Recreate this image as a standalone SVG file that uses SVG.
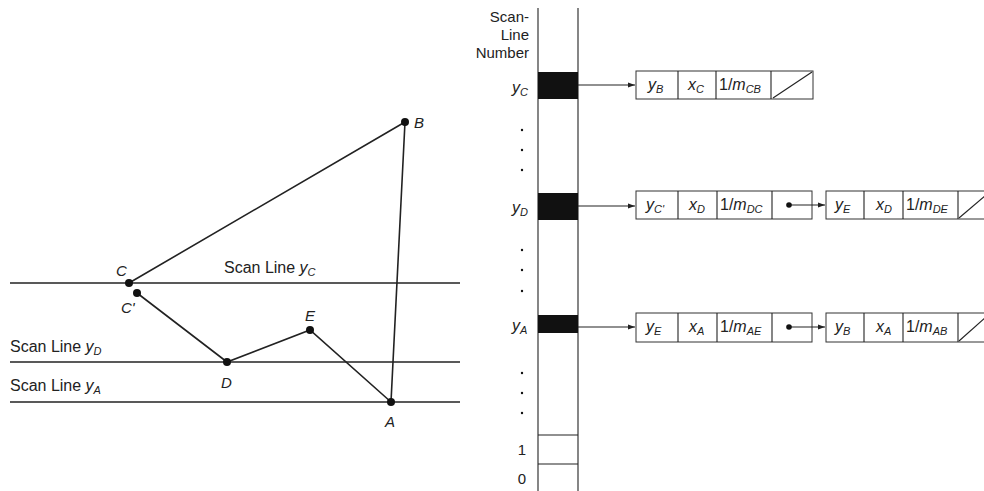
<svg xmlns="http://www.w3.org/2000/svg" width="984" height="491" viewBox="0 0 984 491">
<style>
text{font-family:"Liberation Sans",Arial,sans-serif;font-size:16px;fill:#222}
.it{font-style:italic}
.sub{font-size:11px;font-style:italic}
.lab{font-size:15px}
.ln{stroke:#222;stroke-width:1.6;fill:none}
.th{stroke:#222;stroke-width:1.1;fill:none}
.box{stroke:#333;stroke-width:1;fill:#fff}
.dot{fill:#111}
</style>
<defs>
<marker id="ah" markerWidth="8" markerHeight="6" refX="7" refY="3" orient="auto" markerUnits="userSpaceOnUse">
<path d="M0,0.5 L7,3 L0,5.5 z" fill="#222"/>
</marker>
</defs>
<rect width="984" height="491" fill="#fff"/>
<!-- left figure -->
<g id="scanlines">
<line class="ln" x1="10" y1="283" x2="460" y2="283"/>
<line class="ln" x1="10" y1="362" x2="460" y2="362"/>
<line class="ln" x1="10" y1="402" x2="460" y2="402"/>
<text x="224" y="273">Scan Line <tspan class="it">y</tspan><tspan class="sub" dy="3">C</tspan></text>
<text x="10" y="352">Scan Line <tspan class="it">y</tspan><tspan class="sub" dy="3">D</tspan></text>
<text x="10" y="391">Scan Line <tspan class="it">y</tspan><tspan class="sub" dy="3">A</tspan></text>
</g>
<g id="edges">
<polyline class="ln" points="129,283 405,122 391,402"/>
<polyline class="ln" points="137,293 227,362 310,330 391,402"/>
</g>
<g id="vB"><circle class="dot" cx="405" cy="122" r="4"/><text class="it lab" x="414" y="128">B</text></g>
<g id="vC"><circle class="dot" cx="129" cy="283" r="4"/><text class="it lab" x="116" y="276">C</text></g>
<g id="vC2"><circle class="dot" cx="137" cy="293" r="4"/><text class="it lab" x="121" y="313">C'</text></g>
<g id="vE"><circle class="dot" cx="310" cy="330" r="4"/><text class="it lab" x="305" y="321">E</text></g>
<g id="vD"><circle class="dot" cx="227" cy="362" r="4"/><text class="it lab" x="221" y="388">D</text></g>
<g id="vA"><circle class="dot" cx="391" cy="402" r="4"/><text class="it lab" x="385" y="427">A</text></g>
<!-- bucket column -->
<g id="column">
<line class="th" x1="538" y1="8" x2="538" y2="491"/>
<line class="th" x1="578" y1="8" x2="578" y2="491"/>
<rect x="538" y="72" width="40" height="27" fill="#111"/>
<rect x="538" y="193" width="40" height="27" fill="#111"/>
<rect x="538" y="315" width="40" height="18" fill="#111"/>
<line class="th" x1="538" y1="435" x2="578" y2="435"/>
<line class="th" x1="538" y1="464" x2="578" y2="464"/>
<text class="lab" x="529" y="22" text-anchor="end">Scan-</text>
<text class="lab" x="529" y="40" text-anchor="end">Line</text>
<text class="lab" x="529" y="58" text-anchor="end">Number</text>
<text x="512" y="93"><tspan class="it">y</tspan><tspan class="sub" dy="3">C</tspan></text>
<text x="512" y="213"><tspan class="it">y</tspan><tspan class="sub" dy="3">D</tspan></text>
<text x="512" y="331"><tspan class="it">y</tspan><tspan class="sub" dy="3">A</tspan></text>
<text class="lab" x="522" y="455" text-anchor="middle">1</text>
<text class="lab" x="522" y="484" text-anchor="middle">0</text>
<g class="dot">
<circle cx="522" cy="130" r="1.2"/><circle cx="522" cy="150" r="1.2"/><circle cx="522" cy="170" r="1.2"/>
<circle cx="522" cy="250" r="1.2"/><circle cx="522" cy="270" r="1.2"/><circle cx="522" cy="291" r="1.2"/>
<circle cx="522" cy="373" r="1.2"/><circle cx="522" cy="393" r="1.2"/><circle cx="522" cy="413" r="1.2"/>
</g>
</g>
<!-- row yC -->
<g id="nodeCB">
<rect class="box" x="636" y="71" width="177" height="28"/>
<line class="th" x1="678" y1="71" x2="678" y2="99"/>
<line class="th" x1="716" y1="71" x2="716" y2="99"/>
<line class="th" x1="771" y1="71" x2="771" y2="99"/>
<line class="th" x1="773" y1="98" x2="812" y2="72"/>
<text x="648" y="90"><tspan class="it">y</tspan><tspan class="sub" dy="3">B</tspan></text>
<text x="688" y="90"><tspan class="it">x</tspan><tspan class="sub" dy="3">C</tspan></text>
<text x="719" y="90">1/<tspan class="it">m</tspan><tspan class="sub" dy="3">CB</tspan></text>
</g>
<!-- row yD -->
<g id="nodeDC">
<rect class="box" x="636" y="191" width="176" height="28"/>
<line class="th" x1="678" y1="191" x2="678" y2="219"/>
<line class="th" x1="717" y1="191" x2="717" y2="219"/>
<line class="th" x1="772" y1="191" x2="772" y2="219"/>
<text x="646" y="210"><tspan class="it">y</tspan><tspan class="sub" dy="3">C'</tspan></text>
<text x="689" y="210"><tspan class="it">x</tspan><tspan class="sub" dy="3">D</tspan></text>
<text x="720" y="210">1/<tspan class="it">m</tspan><tspan class="sub" dy="3">DC</tspan></text>
</g>
<g id="nodeDE">
<rect class="box" x="826" y="191" width="180" height="28"/>
<line class="th" x1="864" y1="191" x2="864" y2="219"/>
<line class="th" x1="903" y1="191" x2="903" y2="219"/>
<line class="th" x1="958" y1="191" x2="958" y2="219"/>
<line class="th" x1="959" y1="218" x2="986" y2="195"/>
<text x="835" y="210"><tspan class="it">y</tspan><tspan class="sub" dy="3">E</tspan></text>
<text x="876" y="210"><tspan class="it">x</tspan><tspan class="sub" dy="3">D</tspan></text>
<text x="906" y="210">1/<tspan class="it">m</tspan><tspan class="sub" dy="3">DE</tspan></text>
</g>
<!-- row yA -->
<g id="nodeAE">
<rect class="box" x="636" y="313" width="176" height="29"/>
<line class="th" x1="678" y1="313" x2="678" y2="342"/>
<line class="th" x1="717" y1="313" x2="717" y2="342"/>
<line class="th" x1="772" y1="313" x2="772" y2="342"/>
<text x="646" y="332"><tspan class="it">y</tspan><tspan class="sub" dy="3">E</tspan></text>
<text x="689" y="332"><tspan class="it">x</tspan><tspan class="sub" dy="3">A</tspan></text>
<text x="720" y="332">1/<tspan class="it">m</tspan><tspan class="sub" dy="3">AE</tspan></text>
</g>
<g id="nodeAB">
<rect class="box" x="826" y="313" width="180" height="29"/>
<line class="th" x1="864" y1="313" x2="864" y2="342"/>
<line class="th" x1="903" y1="313" x2="903" y2="342"/>
<line class="th" x1="958" y1="313" x2="958" y2="342"/>
<line class="th" x1="959" y1="341" x2="986" y2="317"/>
<text x="835" y="332"><tspan class="it">y</tspan><tspan class="sub" dy="3">B</tspan></text>
<text x="876" y="332"><tspan class="it">x</tspan><tspan class="sub" dy="3">A</tspan></text>
<text x="906" y="332">1/<tspan class="it">m</tspan><tspan class="sub" dy="3">AB</tspan></text>
</g>
<!-- connectors -->
<g id="connectors">
<line class="th" x1="578" y1="85" x2="635" y2="85" marker-end="url(#ah)"/>
<line class="th" x1="578" y1="206" x2="635" y2="206" marker-end="url(#ah)"/>
<line class="th" x1="578" y1="327" x2="635" y2="327" marker-end="url(#ah)"/>
<line class="th" x1="789" y1="205" x2="825" y2="205" marker-end="url(#ah)"/>
<line class="th" x1="789" y1="327" x2="825" y2="327" marker-end="url(#ah)"/>
<circle class="dot" cx="789" cy="205" r="2.8"/>
<circle class="dot" cx="789" cy="327" r="2.8"/>
</g>
</svg>
